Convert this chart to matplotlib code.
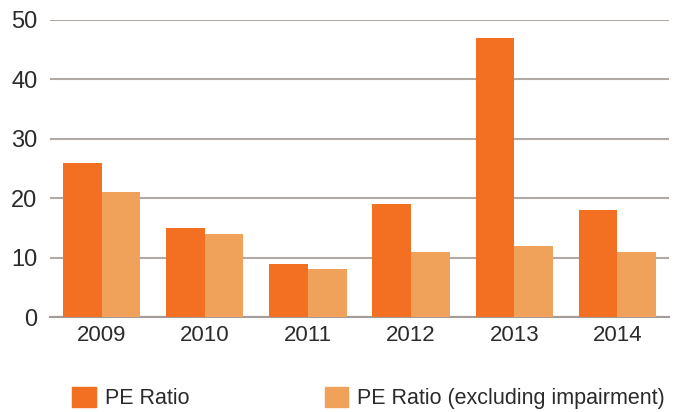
import numpy as np
import matplotlib.pyplot as plt
from matplotlib.patches import Patch

years = ["2009", "2010", "2011", "2012", "2013", "2014"]
pe_ratio = [26, 15, 9, 19, 47, 18]
pe_ratio_excl = [21, 14, 8, 11, 12, 11]

dark = "#F36F21"
light = "#F0A25B"
grid_col = "#B1A9A4"

plt.rcParams['font.family'] = ['Liberation Sans', 'DejaVu Sans']

fig = plt.figure(figsize=(6.79, 4.12), dpi=100)
ax = fig.add_axes([50 / 679, 1 - 317 / 412, 619 / 679, 297 / 412])

x = np.arange(len(years))
w = 0.375
ax.bar(x - w / 2, pe_ratio, width=w, color=dark, zorder=3)
ax.bar(x + w / 2, pe_ratio_excl, width=w, color=light, zorder=3)

ax.set_xlim(-0.5, 5.5)
ax.set_ylim(0, 50)
ax.set_yticks([0, 10, 20, 30, 40, 50])
ax.set_xticks(x)
ax.set_xticklabels(years)
ax.yaxis.grid(True, color=grid_col, linewidth=1.5, zorder=0)
ax.set_axisbelow(True)
for s in ["top", "right", "left"]:
    ax.spines[s].set_visible(False)
ax.spines["bottom"].set_color("#A39C98")
ax.spines["bottom"].set_linewidth(1.5)
ax.tick_params(axis="both", length=0, labelsize=16, colors="#2b2b2b")
ax.tick_params(axis="y", pad=9, labelsize=17)
ax.tick_params(axis="x", pad=6)

handles = [Patch(color=dark, label="PE Ratio"),
           Patch(color=light, label="PE Ratio (excluding impairment)")]
fig.legend(handles=handles, ncol=2, loc="center left",
           bbox_to_anchor=(53 / 679, 1 - 398 / 412), frameon=False,
           fontsize=15.5, handlelength=1.1, handleheight=1.1,
           handletextpad=0.4, columnspacing=6.3, labelcolor="#2b2b2b")

fig.savefig("out.png", dpi=100)
